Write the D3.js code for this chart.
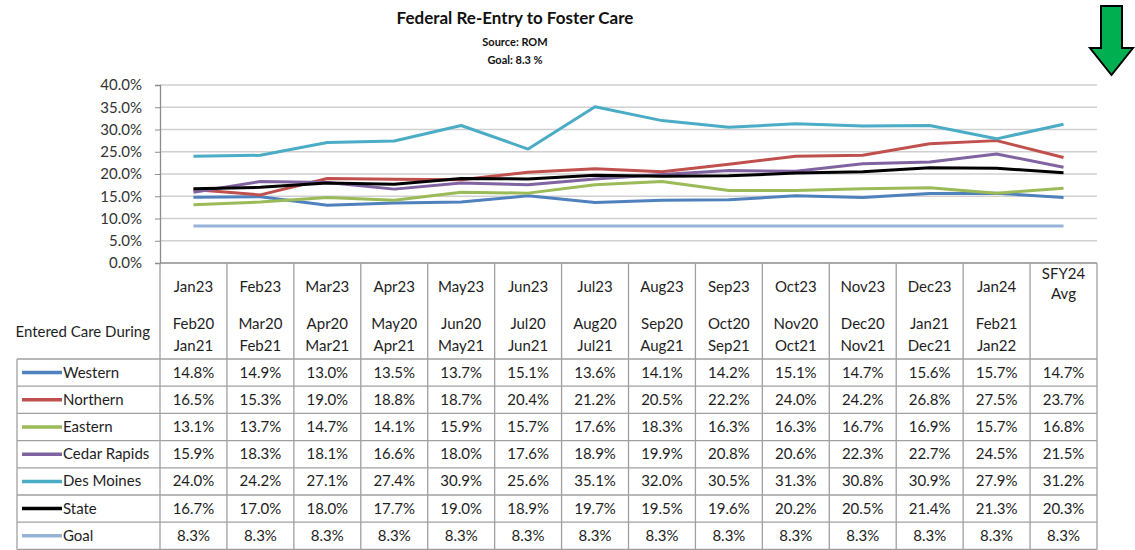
<!DOCTYPE html>
<html>
<head>
<meta charset="utf-8">
<script src="https://cdn.jsdelivr.net/npm/d3@7"></script>
<style>
  html, body { margin: 0; padding: 0; background: #fff; }
  svg { display: block; font-family: Lato, "Open Sans", sans-serif; }
</style>
</head>
<body>
<svg id="chart" width="1135" height="550"></svg>
<script>
// ── data ─────────────────────────────────────────────────────────
const months = ["Jan23", "Feb23", "Mar23", "Apr23", "May23", "Jun23", "Jul23",
  "Aug23", "Sep23", "Oct23", "Nov23", "Dec23", "Jan24", "SFY24 Avg"];
const periods = [["Feb20", "Jan21"], ["Mar20", "Feb21"], ["Apr20", "Mar21"], ["May20", "Apr21"],
  ["Jun20", "May21"], ["Jul20", "Jun21"], ["Aug20", "Jul21"], ["Sep20", "Aug21"],
  ["Oct20", "Sep21"], ["Nov20", "Oct21"], ["Dec20", "Nov21"], ["Jan21", "Dec21"],
  ["Feb21", "Jan22"], []];
const seriesNames = ["Western", "Northern", "Eastern", "Cedar Rapids", "Des Moines", "State", "Goal"];
const western = [14.8, 14.9, 13.0, 13.5, 13.7, 15.1, 13.6, 14.1, 14.2, 15.1, 14.7, 15.6, 15.7, 14.7];
const northern = [16.5, 15.3, 19.0, 18.8, 18.7, 20.4, 21.2, 20.5, 22.2, 24.0, 24.2, 26.8, 27.5, 23.7];
const eastern = [13.1, 13.7, 14.7, 14.1, 15.9, 15.7, 17.6, 18.3, 16.3, 16.3, 16.7, 16.9, 15.7, 16.8];
const cedarRapids = [15.9, 18.3, 18.1, 16.6, 18.0, 17.6, 18.9, 19.9, 20.8, 20.6, 22.3, 22.7, 24.5, 21.5];
const desMoines = [24.0, 24.2, 27.1, 27.4, 30.9, 25.6, 35.1, 32.0, 30.5, 31.3, 30.8, 30.9, 27.9, 31.2];
const state = [16.7, 17.0, 18.0, 17.7, 19.0, 18.9, 19.7, 19.5, 19.6, 20.2, 20.5, 21.4, 21.3, 20.3];
const goal = [8.3, 8.3, 8.3, 8.3, 8.3, 8.3, 8.3, 8.3, 8.3, 8.3, 8.3, 8.3, 8.3, 8.3];
const yTicks = [0, 5, 10, 15, 20, 25, 30, 35, 40];

const seriesValues = [western, northern, eastern, cedarRapids, desMoines, state, goal];
const seriesColors = ["#4F81BD", "#C0504D", "#9BBB59", "#8064A2", "#4BACC6", "#000000", "#95B3D7"];

// ── layout ───────────────────────────────────────────────────────
const plotLeft = 160, plotRight = 1097, plotTop = 85, plotBottom = 263;
const headerBottom = 359, rowH = 27.2, legendLeft = 17;
const textColor = "#1e1e1e";

const svg = d3.select("#chart");
const x = d3.scaleBand().domain(months).range([plotLeft, plotRight]);
const y = d3.scaleLinear().domain([0, 40]).range([plotBottom, plotTop]);
const cx = m => x(m) + x.bandwidth() / 2;

// titles
svg.append("text").attr("x", 515).attr("y", 24).attr("text-anchor", "middle")
  .style("font-size", "17px").style("font-weight", "700").attr("fill", "#111")
  .text("Federal Re-Entry to Foster Care");
svg.append("text").attr("x", 515).attr("y", 46).attr("text-anchor", "middle")
  .style("font-size", "11px").style("font-weight", "700").attr("fill", "#111")
  .text("Source: ROM");
svg.append("text").attr("x", 515).attr("y", 64).attr("text-anchor", "middle")
  .style("font-size", "11px").style("font-weight", "700").attr("fill", "#111")
  .text("Goal: 8.3 %");

// gridlines + y axis
svg.append("g").selectAll("line").data(yTicks.filter(t => t > 0)).join("line")
  .attr("x1", plotLeft).attr("x2", plotRight)
  .attr("y1", d => y(d)).attr("y2", d => y(d))
  .attr("stroke", "#D0D0D0").attr("stroke-width", 1.5);

const yAxis = svg.append("g").attr("transform", `translate(${plotLeft},0)`)
  .call(d3.axisLeft(y).tickValues(yTicks).tickFormat(d => d.toFixed(1) + "%").tickSize(5).tickPadding(13));
yAxis.select(".domain").attr("stroke", "#8C8C8C").attr("stroke-width", 1.3);
yAxis.selectAll(".tick line").attr("stroke", "#8C8C8C");
yAxis.selectAll("text").style("font-size", "15px").attr("fill", "#333").style("font-family", "Lato, sans-serif");

// x axis line
svg.append("line").attr("x1", plotLeft).attr("x2", plotRight)
  .attr("y1", plotBottom).attr("y2", plotBottom).attr("stroke", "#8C8C8C").attr("stroke-width", 1.5);

// lines
const line = d3.line().x((d, i) => cx(months[i])).y(d => y(d));
svg.append("g").selectAll("path").data(seriesValues).join("path")
  .attr("d", d => line(d))
  .attr("fill", "none")
  .attr("stroke", (d, i) => seriesColors[i])
  .attr("stroke-width", 3)
  .attr("stroke-linejoin", "round");

// ── data table ───────────────────────────────────────────────────
const table = svg.append("g");
const tableBottom = headerBottom + rowH * seriesNames.length;
const border = "#A0A0A0";

// vertical column dividers
table.selectAll("line.vcol").data(d3.range(months.length + 1)).join("line")
  .attr("class", "vcol")
  .attr("x1", i => plotLeft + i * x.bandwidth()).attr("x2", i => plotLeft + i * x.bandwidth())
  .attr("y1", plotBottom).attr("y2", tableBottom)
  .attr("stroke", border).attr("stroke-width", 1.3);

// legend column left border
table.append("line").attr("x1", legendLeft).attr("x2", legendLeft)
  .attr("y1", headerBottom).attr("y2", tableBottom).attr("stroke", border).attr("stroke-width", 1.3);

// horizontal row lines
table.selectAll("line.hrow").data(d3.range(seriesNames.length + 1)).join("line")
  .attr("class", "hrow")
  .attr("x1", legendLeft).attr("x2", plotRight)
  .attr("y1", i => headerBottom + i * rowH).attr("y2", i => headerBottom + i * rowH)
  .attr("stroke", border).attr("stroke-width", 1.3);

// header: months
table.selectAll("text.month").data(months).join("text")
  .attr("class", "month")
  .attr("text-anchor", "middle").style("font-size", "15px").attr("fill", textColor)
  .each(function (d) {
    const parts = d.split(" ");
    const t = d3.select(this);
    const y0 = parts.length > 1 ? 279 : 292;
    parts.forEach((p, j) => t.append("tspan").attr("x", cx(d)).attr("y", y0 + j * 20).text(p));
  });

// header: periods
table.selectAll("text.period").data(periods).join("text")
  .attr("class", "period")
  .attr("text-anchor", "middle").style("font-size", "15px").attr("fill", textColor)
  .each(function (d, i) {
    const t = d3.select(this);
    d.forEach((p, j) => t.append("tspan").attr("x", cx(months[i])).attr("y", 329 + j * 22).text(p));
  });

table.append("text").attr("x", 150).attr("y", 337).attr("text-anchor", "end")
  .style("font-size", "15px").attr("fill", textColor).text("Entered Care During");

// rows
const rows = table.selectAll("g.row").data(seriesNames).join("g")
  .attr("class", "row")
  .attr("transform", (d, i) => `translate(0,${headerBottom + i * rowH + rowH / 2})`);

rows.append("line").attr("x1", 22).attr("x2", 62).attr("y1", 0).attr("y2", 0)
  .attr("stroke", (d, i) => seriesColors[i]).attr("stroke-width", 3.5);
rows.append("text").attr("x", 63).attr("y", 5)
  .style("font-size", "15px").attr("fill", textColor).text(d => d);

rows.each(function (name, i) {
  d3.select(this).selectAll("text.val").data(seriesValues[i]).join("text")
    .attr("class", "val")
    .attr("x", (v, j) => cx(months[j])).attr("y", 5)
    .attr("text-anchor", "middle").style("font-size", "15px").attr("fill", textColor)
    .text(v => v.toFixed(1) + "%");
});

// ── green down arrow ─────────────────────────────────────────────
const arrowPts = [[1101, 6], [1122, 6], [1122, 48], [1133, 48], [1111.5, 75], [1090, 48], [1101, 48]];
svg.append("path").attr("d", d3.line()(arrowPts) + "Z")
  .attr("fill", "#00B050").attr("stroke", "#000").attr("stroke-width", 2).attr("stroke-linejoin", "miter");
</script>
</body>
</html>
